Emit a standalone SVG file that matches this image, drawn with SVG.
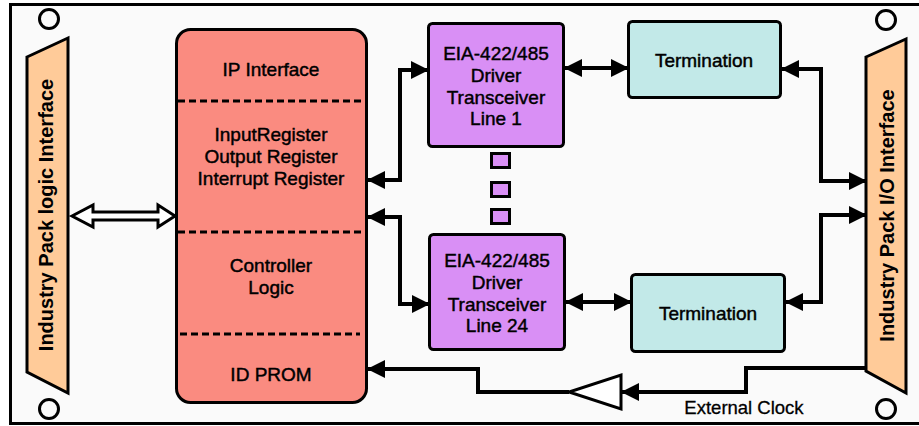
<svg xmlns="http://www.w3.org/2000/svg" width="919" height="426" viewBox="0 0 919 426">
<style>
.t{font-family:"Liberation Sans",Arial,sans-serif;font-size:19px;fill:#000;stroke:#000;stroke-width:0.45;text-anchor:middle}
.v{font-family:"Liberation Sans",Arial,sans-serif;font-size:20px;font-weight:bold;fill:#000;text-anchor:middle}
.box{stroke:#000;stroke-width:3}
.dash{stroke:#000;stroke-width:3;stroke-dasharray:7,4;fill:none}
.hole{fill:none;stroke:#000;stroke-width:3}
.c{fill:none;stroke:#000;stroke-width:4}
</style>
<defs>
<marker id="ah" viewBox="0 0 18 18" refX="17" refY="9" markerWidth="18" markerHeight="18" markerUnits="userSpaceOnUse" orient="auto-start-reverse">
<path d="M0,0 L18,9 L0,18 Z" fill="#000"/>
</marker>
</defs>
<rect x="0" y="0" width="919" height="426" fill="#fff"/>
<g id="board">
<rect x="10.5" y="4.5" width="920" height="419" fill="#fafafa" stroke="#000" stroke-width="3"/>
<circle class="hole" cx="49" cy="19" r="9.5"/>
<circle class="hole" cx="49" cy="409" r="9.5"/>
<circle class="hole" cx="886" cy="20" r="9.5"/>
<circle class="hole" cx="886" cy="409" r="9.5"/>
</g>
<g id="left-interface">
<polygon class="box" points="27,57 68,38 68,393 27,372" fill="#ffcb99"/>
<text class="v" x="53" y="215" transform="rotate(-90 53 215)">Industry Pack logic Interface</text>
</g>
<g id="right-interface">
<polygon class="box" points="866,57 906,39 906,393 866,371" fill="#ffcb99"/>
<text class="v" x="894" y="215.5" transform="rotate(-90 894 215.5)">Industry Pack I/O Interface</text>
</g>
<g id="controller">
<rect class="box" x="176.5" y="29.5" width="190" height="373" rx="14" fill="#fa8b80"/>
<line class="dash" x1="178" y1="101" x2="365" y2="101"/>
<line class="dash" x1="178" y1="232" x2="365" y2="232"/>
<line class="dash" x1="180" y1="334" x2="360" y2="334"/>
<text class="t" x="271" y="76">IP Interface</text>
<text class="t" x="271" y="141">InputRegister</text>
<text class="t" x="271" y="163">Output Register</text>
<text class="t" x="271" y="185">Interrupt Register</text>
<text class="t" x="271" y="272">Controller</text>
<text class="t" x="271" y="294">Logic</text>
<text class="t" x="271" y="381">ID PROM</text>
</g>
<g id="driver1">
<rect class="box" x="428.5" y="23.5" width="135" height="123" rx="4" fill="#d98ff5"/>
<text class="t" x="496" y="60">EIA-422/485</text>
<text class="t" x="496" y="82">Driver</text>
<text class="t" x="496" y="104">Transceiver</text>
<text class="t" x="496" y="125">Line 1</text>
</g>
<g id="dots">
<rect class="box" x="491.5" y="153.5" width="18" height="14" fill="#d98ff5" stroke-width="2.5"/>
<rect class="box" x="491.5" y="182.5" width="18" height="14" fill="#d98ff5" stroke-width="2.5"/>
<rect class="box" x="491.5" y="209.5" width="18" height="14" fill="#d98ff5" stroke-width="2.5"/>
</g>
<g id="driver24">
<rect class="box" x="429.5" y="234.5" width="135" height="115" rx="4" fill="#d98ff5"/>
<text class="t" x="497" y="267">EIA-422/485</text>
<text class="t" x="497" y="289">Driver</text>
<text class="t" x="497" y="311">Transceiver</text>
<text class="t" x="497" y="332">Line 24</text>
</g>
<g id="termination1">
<rect class="box" x="628.5" y="21.5" width="152" height="76" rx="4" fill="#c2e9e8"/>
<text class="t" x="704" y="67">Termination</text>
</g>
<g id="termination2">
<rect class="box" x="631.5" y="274.5" width="153" height="77" rx="4" fill="#c2e9e8"/>
<text class="t" x="708" y="320">Termination</text>
</g>
<g id="connectors">
<polygon points="72,216 93,205 93,212 158,212 158,205 175,216 158,227 158,220 93,220 93,227" fill="#fff" stroke="#000" stroke-width="3" stroke-linejoin="miter"/>
<path class="c" d="M368,180 H400 V70 H428" marker-start="url(#ah)" marker-end="url(#ah)"/>
<path class="c" d="M368,217 H400 V304 H429" marker-start="url(#ah)" marker-end="url(#ah)"/>
<path class="c" d="M565,68 H628" marker-start="url(#ah)" marker-end="url(#ah)"/>
<path class="c" d="M566,302 H631" marker-start="url(#ah)" marker-end="url(#ah)"/>
<path class="c" d="M782,69 H821 V181 H866" marker-start="url(#ah)" marker-end="url(#ah)"/>
<path class="c" d="M786,302 H821 V215 H866" marker-start="url(#ah)" marker-end="url(#ah)"/>
<path class="c" d="M866,368 H746 V392 H622" marker-end="url(#ah)"/>
<polygon points="621,375 621,409 569,392" fill="#fff" stroke="#000" stroke-width="3"/>
<path class="c" d="M569,392 H478 V369 H368" marker-end="url(#ah)"/>
<text class="t" x="744" y="414" style="font-size:18.5px;stroke-width:0.3">External Clock</text>
</g>
</svg>
